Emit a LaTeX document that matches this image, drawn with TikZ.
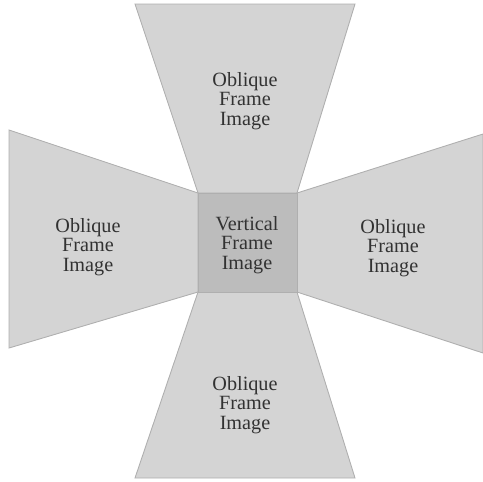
\documentclass[tikz,border=0pt]{standalone}
\usepackage{fontspec}
\setmainfont{Liberation Serif}
\usetikzlibrary{positioning}
\definecolor{obliquegray}{RGB}{212,212,212}
\definecolor{verticalgray}{RGB}{188,188,188}
\definecolor{edgegray}{RGB}{175,175,175}
\definecolor{labelgray}{RGB}{50,50,50}

\begin{document}
\begin{tikzpicture}[x=0.02cm, y=-0.02cm,
  every node/.style={font=\fontsize{11.5}{11.2}\selectfont, color=labelgray, align=center},
  oblique/.style={fill=obliquegray, draw=edgegray, line width=0.5pt},
  vertical/.style={fill=verticalgray, draw=edgegray, line width=0.5pt}
]
\useasboundingbox (0,0) rectangle (483,481);

% corners of the vertical frame
\coordinate (nw) at (198,193);
\coordinate (ne) at (297,193);
\coordinate (se) at (297,292);
\coordinate (sw) at (198,292);

% oblique frames round it
\draw[oblique] (135,4) -- (355,4) -- (ne) -- (nw) -- cycle;
\draw[oblique] (9,130) -- (nw) -- (sw) -- (9,348) -- cycle;
\draw[oblique] (483,134) -- (ne) -- (se) -- (483,353) -- cycle;
\draw[oblique] (135,478) -- (355,478) -- (se) -- (sw) -- cycle;

% vertical frame
\draw[vertical] (nw) rectangle (se);

% labels
\node (top) at (245,101) {Oblique\\Frame\\Image};
\node (left) at (88,247) {Oblique\\Frame\\Image};
\node (vert) at (247,245) {Vertical\\Frame\\Image};
\node (right) at (393,248) {Oblique\\Frame\\Image};
\node (bottom) at (245,405) {Oblique\\Frame\\Image};
\end{tikzpicture}
\end{document}
